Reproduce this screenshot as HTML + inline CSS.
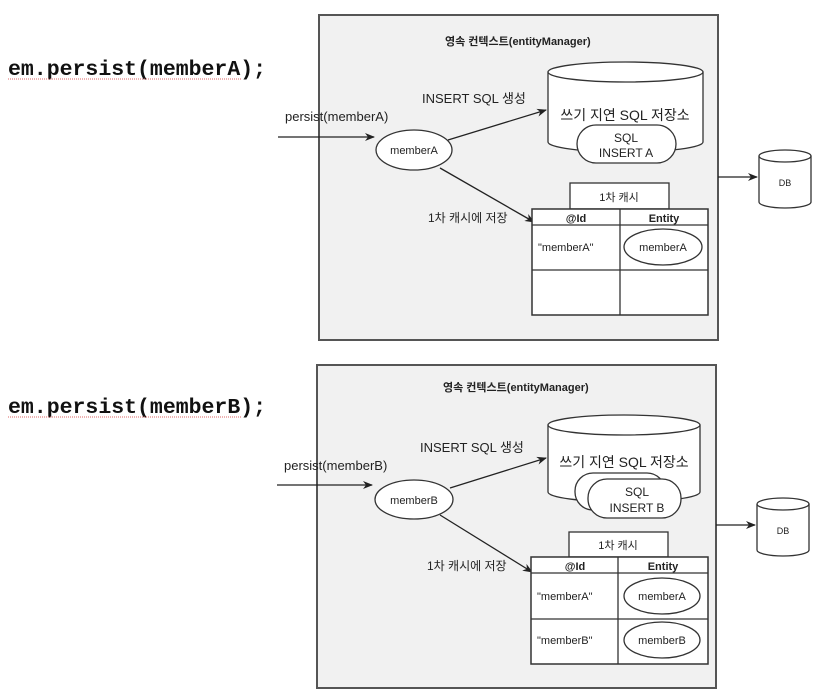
<!DOCTYPE html>
<html><head><meta charset="utf-8"><style>
html,body{margin:0;padding:0;background:#fff;}
svg{display:block;}
text{font-family:"Liberation Sans","Noto Sans CJK KR",sans-serif;fill:#222;}
.code{font-family:"Liberation Mono",monospace;font-weight:bold;font-size:21.5px;fill:#111;}
</style></head><body>
<svg width="825" height="690" viewBox="0 0 825 690" xmlns="http://www.w3.org/2000/svg">
<defs>
<marker id="ah" markerWidth="10" markerHeight="8" refX="9" refY="4" orient="auto" markerUnits="userSpaceOnUse">
<path d="M0,0 L10,4 L0,8 L3,4 Z" fill="#222"/></marker>
</defs>
<rect width="825" height="690" fill="#fff"/>

<!-- ===== TOP ===== -->
<text class="code" x="8" y="75">em.persist(memberA);</text>
<line x1="8" y1="79" x2="242" y2="79" stroke="#d66" stroke-width="1" stroke-dasharray="1,1"/>
<rect x="319" y="15" width="399" height="325" fill="#f1f1f1" stroke="#555" stroke-width="2"/>
<text x="445" y="45" font-size="11" font-weight="bold">영속 컨텍스트(entityManager)</text>

<text x="285" y="121" font-size="13">persist(memberA)</text>
<line x1="278" y1="137" x2="374" y2="137" stroke="#222" stroke-width="1.3" marker-end="url(#ah)"/>
<ellipse cx="414" cy="150" rx="38" ry="20" fill="#fff" stroke="#333" stroke-width="1.3"/>
<text x="414" y="154" font-size="11" text-anchor="middle">memberA</text>

<text x="422" y="103" font-size="13">INSERT SQL 생성</text>
<line x1="448" y1="140" x2="546" y2="110" stroke="#222" stroke-width="1.3" marker-end="url(#ah)"/>
<text x="428" y="222" font-size="12">1차 캐시에 저장</text>
<line x1="440" y1="168" x2="534" y2="222" stroke="#222" stroke-width="1.3" marker-end="url(#ah)"/>

<!-- cylinder -->
<path d="M548,72 L548,142 A77,10 0 0 0 703,142 L703,72" fill="#fff" stroke="#333" stroke-width="1.3"/>
<ellipse cx="625.5" cy="72" rx="77.5" ry="10" fill="#fff" stroke="#333" stroke-width="1.3"/>
<text x="625" y="120" font-size="14" text-anchor="middle">쓰기 지연 SQL 저장소</text>
<rect x="577" y="125" width="99" height="38" rx="19" fill="#fff" stroke="#333" stroke-width="1.3"/>
<text x="626" y="142" font-size="12" text-anchor="middle">SQL</text>
<text x="626" y="157" font-size="12" text-anchor="middle">INSERT A</text>

<!-- DB -->
<line x1="718" y1="177" x2="757" y2="177" stroke="#222" stroke-width="1.3" marker-end="url(#ah)"/>
<path d="M759,156 L759,202 A26,6 0 0 0 811,202 L811,156" fill="#fff" stroke="#333" stroke-width="1.3"/>
<ellipse cx="785" cy="156" rx="26" ry="6" fill="#fff" stroke="#333" stroke-width="1.3"/>
<text x="785" y="186" font-size="9" text-anchor="middle">DB</text>

<!-- cache -->
<rect x="570" y="183" width="99" height="26" fill="#fff" stroke="#333" stroke-width="1.3"/>
<text x="619" y="201" font-size="11" text-anchor="middle">1차 캐시</text>
<rect x="532" y="209" width="176" height="106" fill="#fff" stroke="#333" stroke-width="1.5"/>
<line x1="532" y1="225" x2="708" y2="225" stroke="#333" stroke-width="1.3"/>
<line x1="532" y1="270" x2="708" y2="270" stroke="#333" stroke-width="1.3"/>
<line x1="620" y1="209" x2="620" y2="315" stroke="#333" stroke-width="1.3"/>
<text x="576" y="222" font-size="11" font-weight="bold" text-anchor="middle">@Id</text>
<text x="664" y="222" font-size="11" font-weight="bold" text-anchor="middle">Entity</text>
<text x="538" y="251" font-size="11">"memberA"</text>
<ellipse cx="663" cy="247" rx="39" ry="18" fill="#fff" stroke="#333" stroke-width="1.3"/>
<text x="663" y="251" font-size="11" text-anchor="middle">memberA</text>

<!-- ===== BOTTOM ===== -->
<text class="code" x="8" y="413">em.persist(memberB);</text>
<line x1="8" y1="417" x2="242" y2="417" stroke="#d66" stroke-width="1" stroke-dasharray="1,1"/>
<rect x="317" y="365" width="399" height="323" fill="#f1f1f1" stroke="#555" stroke-width="2"/>
<text x="443" y="391" font-size="11" font-weight="bold">영속 컨텍스트(entityManager)</text>

<text x="284" y="470" font-size="13">persist(memberB)</text>
<line x1="277" y1="485" x2="372" y2="485" stroke="#222" stroke-width="1.3" marker-end="url(#ah)"/>
<ellipse cx="414" cy="499.5" rx="39" ry="19.5" fill="#fff" stroke="#333" stroke-width="1.3"/>
<text x="414" y="504" font-size="11" text-anchor="middle">memberB</text>

<text x="420" y="452" font-size="13">INSERT SQL 생성</text>
<line x1="450" y1="488" x2="546" y2="458" stroke="#222" stroke-width="1.3" marker-end="url(#ah)"/>
<text x="427" y="570" font-size="12">1차 캐시에 저장</text>
<line x1="440" y1="515" x2="532" y2="572" stroke="#222" stroke-width="1.3" marker-end="url(#ah)"/>

<path d="M548,425 L548,492 A76,10 0 0 0 700,492 L700,425" fill="#fff" stroke="#333" stroke-width="1.3"/>
<ellipse cx="624" cy="425" rx="76" ry="10" fill="#fff" stroke="#333" stroke-width="1.3"/>
<text x="624" y="467" font-size="14" text-anchor="middle">쓰기 지연 SQL 저장소</text>
<rect x="575" y="473" width="90" height="37" rx="18" fill="#fff" stroke="#333" stroke-width="1.3"/>
<rect x="588" y="479" width="93" height="39" rx="19" fill="#fff" stroke="#333" stroke-width="1.3"/>
<text x="637" y="496" font-size="12" text-anchor="middle">SQL</text>
<text x="637" y="512" font-size="12" text-anchor="middle">INSERT B</text>

<line x1="716" y1="525" x2="755" y2="525" stroke="#222" stroke-width="1.3" marker-end="url(#ah)"/>
<path d="M757,504 L757,550 A26,6 0 0 0 809,550 L809,504" fill="#fff" stroke="#333" stroke-width="1.3"/>
<ellipse cx="783" cy="504" rx="26" ry="6" fill="#fff" stroke="#333" stroke-width="1.3"/>
<text x="783" y="534" font-size="9" text-anchor="middle">DB</text>

<rect x="569" y="532" width="99" height="25" fill="#fff" stroke="#333" stroke-width="1.3"/>
<text x="618" y="549" font-size="11" text-anchor="middle">1차 캐시</text>
<rect x="531" y="557" width="177" height="107" fill="#fff" stroke="#333" stroke-width="1.5"/>
<line x1="531" y1="573" x2="708" y2="573" stroke="#333" stroke-width="1.3"/>
<line x1="531" y1="619" x2="708" y2="619" stroke="#333" stroke-width="1.3"/>
<line x1="618" y1="557" x2="618" y2="664" stroke="#333" stroke-width="1.3"/>
<text x="575" y="570" font-size="11" font-weight="bold" text-anchor="middle">@Id</text>
<text x="663" y="570" font-size="11" font-weight="bold" text-anchor="middle">Entity</text>
<text x="537" y="600" font-size="11">"memberA"</text>
<ellipse cx="662" cy="596" rx="38" ry="18" fill="#fff" stroke="#333" stroke-width="1.3"/>
<text x="662" y="600" font-size="11" text-anchor="middle">memberA</text>
<text x="537" y="644" font-size="11">"memberB"</text>
<ellipse cx="662" cy="640" rx="38" ry="18" fill="#fff" stroke="#333" stroke-width="1.3"/>
<text x="662" y="644" font-size="11" text-anchor="middle">memberB</text>
</svg>
</body></html>
